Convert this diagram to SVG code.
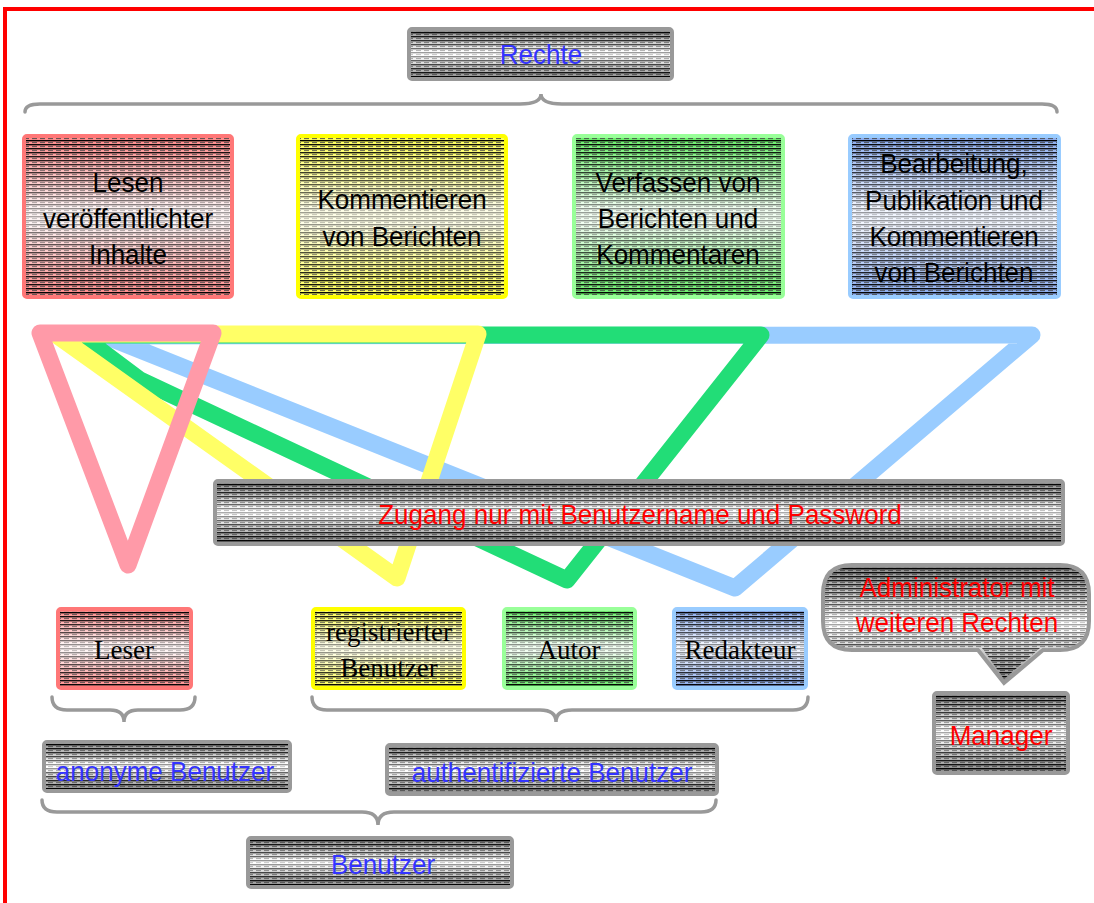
<svg xmlns="http://www.w3.org/2000/svg" width="1094" height="903" viewBox="0 0 1094 903">
<style>
.t{font-family:"Liberation Sans",Arial,sans-serif;font-size:28px;text-anchor:middle;fill:#000}
.s{font-family:"Liberation Serif","Times New Roman",serif;font-size:27px;text-anchor:middle;fill:#000}
.blue{fill:#3333ff}
.red{fill:#ff0000}
.gb{stroke:#999;stroke-width:4}
.tri{fill:none;stroke-width:17;stroke-linejoin:round;stroke-linecap:round}
.brace{fill:none;stroke:#999;stroke-width:3.5;stroke-linecap:round}
.hatch{fill:url(#lines);mask:url(#fade)}
</style>
<defs>
<pattern id="lines" width="8" height="4" patternUnits="userSpaceOnUse">
<rect x="0" y="0" width="8" height="1.4" fill="#000"/>
<rect x="0" y="2.2" width="5" height="0.9" fill="#444"/>
</pattern>
<linearGradient id="mg" x1="0" y1="0" x2="0" y2="1">
<stop offset="0" stop-color="#fff"/>
<stop offset="0.35" stop-color="#999"/>
<stop offset="0.5" stop-color="#555"/>
<stop offset="0.65" stop-color="#999"/>
<stop offset="1" stop-color="#fff"/>
</linearGradient>
<mask id="fade" maskContentUnits="objectBoundingBox">
<rect x="0" y="0" width="1" height="1" fill="url(#mg)"/>
</mask>
<linearGradient id="gGray" x1="0" y1="0" x2="0" y2="1">
<stop offset="0" stop-color="#888"/><stop offset="0.45" stop-color="#fff"/><stop offset="0.55" stop-color="#fff"/><stop offset="1" stop-color="#888"/>
</linearGradient>
<linearGradient id="gRed" x1="0" y1="0" x2="0" y2="1">
<stop offset="0" stop-color="#ff8888"/><stop offset="0.45" stop-color="#fff5f5"/><stop offset="0.55" stop-color="#fff5f5"/><stop offset="1" stop-color="#ff8888"/>
</linearGradient>
<linearGradient id="gYel" x1="0" y1="0" x2="0" y2="1">
<stop offset="0" stop-color="#ffff55"/><stop offset="0.45" stop-color="#ffffe8"/><stop offset="0.55" stop-color="#ffffe8"/><stop offset="1" stop-color="#ffff55"/>
</linearGradient>
<linearGradient id="gGrn" x1="0" y1="0" x2="0" y2="1">
<stop offset="0" stop-color="#66ee66"/><stop offset="0.45" stop-color="#f2fff2"/><stop offset="0.55" stop-color="#f2fff2"/><stop offset="1" stop-color="#66ee66"/>
</linearGradient>
<linearGradient id="gBlu" x1="0" y1="0" x2="0" y2="1">
<stop offset="0" stop-color="#88aaee"/><stop offset="0.45" stop-color="#f2f6ff"/><stop offset="0.55" stop-color="#f2f6ff"/><stop offset="1" stop-color="#88aaee"/>
</linearGradient>
</defs>
<rect x="0" y="0" width="1094" height="903" fill="#fff"/>
<!-- frame -->
<path d="M5,903 V9 H1094" fill="none" stroke="#ff0000" stroke-width="4"/>

<!-- connectors: triangles and braces -->
<g id="connectors">
<polygon class="tri" stroke="#99ccff" points="105,336 1032,335 735,588"/>
<polygon class="tri" stroke="#22dd77" points="80,335 761,335 567,580 140,380"/>
<polygon class="tri" stroke="#ffff66" points="55,334 478,334 397,578"/>
<polygon class="tri" stroke="#ff9aa8" points="40,333 213,333 128,565"/>
<path class="brace" d="M25,112 Q25,104 40,104 L520,104 Q541,104 541,94 Q541,104 562,104 L1042,104 Q1057,104 1057,112"/>
<path class="brace" d="M52,697 Q52,710 67,710 L110,710 Q124,710 124,722 Q124,710 138,710 L180,710 Q195,710 195,697"/>
<path class="brace" d="M312,697 Q312,710 327,710 L540,710 Q556,710 556,722 Q556,710 572,710 L793,710 Q808,710 808,697"/>
<path class="brace" d="M42,800 Q42,812 57,812 L362,812 Q378,812 378,825 Q378,812 394,812 L701,812 Q716,812 716,800"/>
</g>

<g id="rechte">
<rect x="409" y="29" width="263" height="50" rx="3" fill="url(#gGray)" class="gb"/>
<rect x="411" y="31" width="259" height="46" class="hatch"/>
<text class="t blue" transform="translate(541,0) scale(0.93,1)" x="0" y="64">Rechte</text>
</g>

<g id="lesen">
<rect x="24" y="136" width="208" height="161" rx="3" fill="url(#gRed)" stroke="#ff7777" stroke-width="4"/>
<rect x="26" y="138" width="204" height="157" class="hatch"/>
<g transform="translate(128,0) scale(0.93,1)">
<text class="t" x="0" y="192">Lesen</text>
<text class="t" x="0" y="228">veröffentlichter</text>
<text class="t" x="0" y="264">Inhalte</text>
</g>
</g>

<g id="kommentieren">
<rect x="298" y="136" width="208" height="161" rx="3" fill="url(#gYel)" stroke="#ffff00" stroke-width="4"/>
<rect x="300" y="138" width="204" height="157" class="hatch"/>
<g transform="translate(402,0) scale(0.93,1)">
<text class="t" x="0" y="209">Kommentieren</text>
<text class="t" x="0" y="246">von Berichten</text>
</g>
</g>

<g id="verfassen">
<rect x="574" y="136" width="209" height="161" rx="3" fill="url(#gGrn)" stroke="#99ff99" stroke-width="4"/>
<rect x="576" y="138" width="205" height="157" class="hatch"/>
<g transform="translate(678,0) scale(0.93,1)">
<text class="t" x="0" y="192">Verfassen von</text>
<text class="t" x="0" y="228">Berichten und</text>
<text class="t" x="0" y="264">Kommentaren</text>
</g>
</g>

<g id="bearbeitung">
<rect x="850" y="136" width="209" height="161" rx="3" fill="url(#gBlu)" stroke="#99ccff" stroke-width="4"/>
<rect x="852" y="138" width="205" height="157" class="hatch"/>
<g transform="translate(954,0) scale(0.93,1)">
<text class="t" x="0" y="173">Bearbeitung,</text>
<text class="t" x="0" y="210">Publikation und</text>
<text class="t" x="0" y="246">Kommentieren</text>
<text class="t" x="0" y="282">von Berichten</text>
</g>
</g>

<g id="zugang">
<rect x="215" y="481" width="848" height="63" rx="3" fill="url(#gGray)" class="gb"/>
<rect x="217" y="483" width="844" height="59" class="hatch"/>
<text class="t red" transform="translate(640,0) scale(0.93,1)" x="0" y="524">Zugang nur mit Benutzername und Password</text>
</g>

<g id="leser">
<rect x="58" y="609" width="133" height="79" rx="3" fill="url(#gRed)" stroke="#ff7777" stroke-width="4"/>
<rect x="60" y="611" width="129" height="75" class="hatch"/>
<text class="s" x="124" y="659">Leser</text>
</g>

<g id="registriert">
<rect x="313" y="609" width="151" height="79" rx="3" fill="url(#gYel)" stroke="#ffff00" stroke-width="4"/>
<rect x="315" y="611" width="147" height="75" class="hatch"/>
<text class="s" x="389" y="641">registrierter</text>
<text class="s" x="389" y="677">Benutzer</text>
</g>

<g id="autor">
<rect x="504" y="609" width="131" height="79" rx="3" fill="url(#gGrn)" stroke="#99ff99" stroke-width="4"/>
<rect x="506" y="611" width="127" height="75" class="hatch"/>
<text class="s" x="569" y="659">Autor</text>
</g>

<g id="redakteur">
<rect x="674" y="609" width="132" height="79" rx="3" fill="url(#gBlu)" stroke="#99ccff" stroke-width="4"/>
<rect x="676" y="611" width="128" height="75" class="hatch"/>
<text class="s" x="740" y="659">Redakteur</text>
</g>

<g id="administrator">
<path d="M852,565 H1060 Q1089,565 1089,594 V621 Q1089,650 1060,650 H1043 L1004,683 L978,650 H852 Q823,650 823,621 V594 Q823,565 852,565 Z" fill="url(#gGray)" class="gb"/>
<path d="M852,567 H1060 Q1087,567 1087,594 V621 Q1087,648 1060,648 H1040 L1004,679 L982,648 H852 Q825,648 825,621 V594 Q825,567 852,567 Z" class="hatch"/>
<g transform="translate(957,0) scale(0.93,1)">
<text class="t red" x="0" y="597">Administrator mit</text>
<text class="t red" x="0" y="632">weiteren Rechten</text>
</g>
</g>

<g id="manager">
<rect x="934" y="693" width="134" height="80" rx="3" fill="url(#gGray)" class="gb"/>
<rect x="936" y="695" width="130" height="76" class="hatch"/>
<text class="t red" transform="translate(1001,0) scale(0.93,1)" x="0" y="745">Manager</text>
</g>

<g id="anonym">
<rect x="44" y="742" width="246" height="49" rx="3" fill="url(#gGray)" class="gb"/>
<rect x="46" y="744" width="242" height="45" class="hatch"/>
<text class="t blue" transform="translate(165,0) scale(0.93,1)" x="0" y="781">anonyme Benutzer</text>
</g>

<g id="authentifiziert">
<rect x="387" y="745" width="330" height="49" rx="3" fill="url(#gGray)" class="gb"/>
<rect x="389" y="747" width="326" height="45" class="hatch"/>
<text class="t blue" transform="translate(552,0) scale(0.93,1)" x="0" y="782">authentifizierte Benutzer</text>
</g>

<g id="benutzer">
<rect x="248" y="838" width="264" height="49" rx="3" fill="url(#gGray)" class="gb"/>
<rect x="250" y="840" width="260" height="45" class="hatch"/>
<text class="t blue" transform="translate(383,0) scale(0.93,1)" x="0" y="874">Benutzer</text>
</g>
</svg>
